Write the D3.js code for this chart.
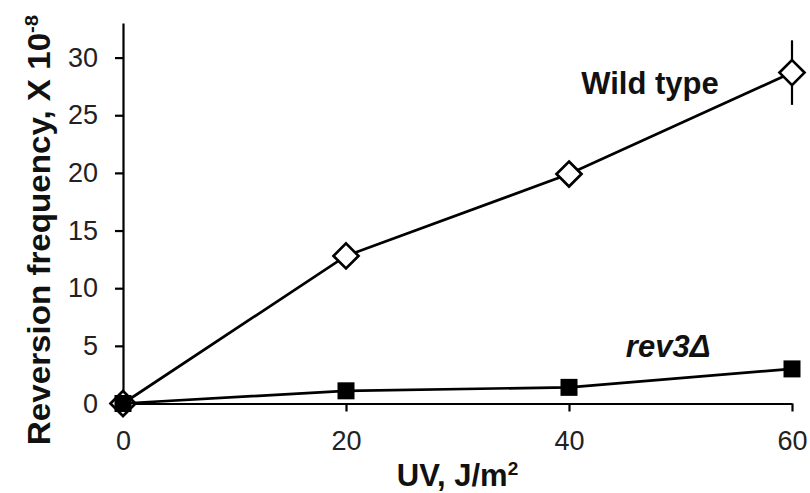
<!DOCTYPE html>
<html>
<head>
<meta charset="utf-8">
<script src="https://cdn.jsdelivr.net/npm/d3@7"></script>
<style>
  body { margin: 0; background: #fff; }
  svg { display: block; }
  .axis path, .axis line { stroke: #000; stroke-width: 2.2px; }
  .axis text { font-family: "Liberation Sans", Arial, sans-serif; font-size: 27px; fill: #222; }
  .title { font-family: "Liberation Sans", Arial, sans-serif; font-weight: bold; font-size: 31px; fill: #111; }
</style>
</head>
<body>
<script>
// data
var doses = [0, 20, 40, 60];
var wildType = [0, 12.8, 19.9, 28.7];
var wildTypeErr = [0, 0, 0, 2.8];
var rev3 = [0, 1.1, 1.4, 3.0];
var yTicks = [0, 5, 10, 15, 20, 25, 30];
var xTicks = [0, 20, 40, 60];

var width = 810, height = 493;
var svg = d3.select("body").append("svg")
  .attr("width", width)
  .attr("height", height);

var x = d3.scaleLinear().domain([0, 60]).range([123, 792]);
var y = d3.scaleLinear().domain([0, 33]).range([403.5, 23]);

// axes
svg.append("g")
  .attr("class", "axis")
  .attr("transform", "translate(0," + y(0) + ")")
  .call(d3.axisBottom(x).tickValues(xTicks).tickSize(8).tickSizeOuter(0).tickPadding(19));

svg.append("g")
  .attr("class", "axis")
  .attr("transform", "translate(" + x(0) + ",0)")
  .call(d3.axisLeft(y).tickValues(yTicks).tickSize(8).tickSizeOuter(0).tickPadding(17));

// axis titles
var xt = svg.append("text")
  .attr("class", "title")
  .attr("font-size", "30px")
  .attr("x", (x(0) + x(60)) / 2)
  .attr("y", 486)
  .attr("text-anchor", "middle");
xt.append("tspan").text("UV, J/m");
xt.append("tspan").attr("font-size", "19px").attr("dy", "-11").text("2");

var yt = svg.append("text")
  .attr("class", "title")
  .attr("transform", "translate(50,230) rotate(-90) scale(1.07,1)")
  .attr("text-anchor", "middle");
yt.append("tspan").text("Reversion frequency, X 10");
yt.append("tspan").attr("font-size", "19px").attr("dy", "-12").text("-8");

var line = d3.line()
  .x(function(d) { return x(d[0]); })
  .y(function(d) { return y(d[1]); });

var wt = doses.map(function(d, i) { return [d, wildType[i], wildTypeErr[i]]; });
var rv = doses.map(function(d, i) { return [d, rev3[i]]; });

// wild type: error bars, line, open diamonds
svg.selectAll(".err")
  .data(wt.filter(function(d) { return d[2] > 0; }))
  .enter().append("line")
  .attr("x1", function(d) { return x(d[0]); })
  .attr("x2", function(d) { return x(d[0]); })
  .attr("y1", function(d) { return y(d[1] - d[2]); })
  .attr("y2", function(d) { return y(d[1] + d[2]); })
  .attr("stroke", "#000")
  .attr("stroke-width", 2.2);

svg.append("path")
  .datum(wt)
  .attr("d", line)
  .attr("fill", "none")
  .attr("stroke", "#000")
  .attr("stroke-width", 2.7);

svg.selectAll(".wt")
  .data(wt)
  .enter().append("path")
  .attr("transform", function(d) { return "translate(" + x(d[0]) + "," + y(d[1]) + ")"; })
  .attr("d", "M0,-12.5L12.5,0L0,12.5L-12.5,0Z")
  .attr("fill", "#fff")
  .attr("stroke", "#000")
  .attr("stroke-width", 2.7);

// rev3 delta: line, filled squares
svg.append("path")
  .datum(rv)
  .attr("d", line)
  .attr("fill", "none")
  .attr("stroke", "#000")
  .attr("stroke-width", 2.7);

svg.selectAll(".rv")
  .data(rv)
  .enter().append("rect")
  .attr("x", function(d) { return x(d[0]) - 8.5; })
  .attr("y", function(d) { return y(d[1]) - 8.5; })
  .attr("width", 17)
  .attr("height", 17)
  .attr("fill", "#000");

// series labels
svg.append("text")
  .attr("class", "title")
  .attr("x", x(41.1))
  .attr("y", y(26.8))
  .text("Wild type");

svg.append("text")
  .attr("class", "title")
  .attr("font-style", "italic")
  .attr("x", x(45.1))
  .attr("y", y(4.0))
  .text("rev3Δ");
</script>
</body>
</html>
